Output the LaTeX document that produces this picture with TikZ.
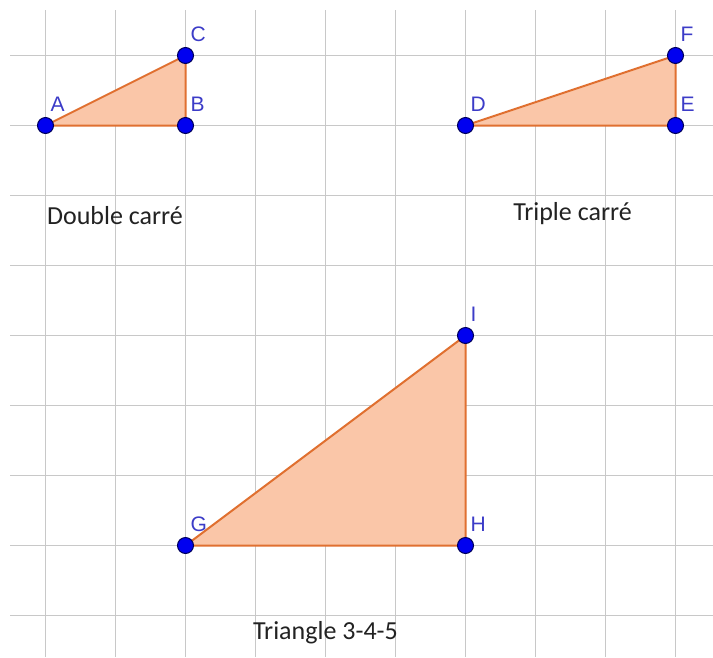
\documentclass[tikz,border=0pt]{standalone}
\usepackage{fontspec}
\setmainfont{Carlito}
\newfontfamily\lblfont{Liberation Sans}
\definecolor{gridgray}{RGB}{200,200,200}
\definecolor{edgeor}{RGB}{224,112,48}
\definecolor{fillor}{RGB}{250,198,168}
\definecolor{ptblue}{RGB}{0,0,240}
\definecolor{ptedge}{RGB}{0,0,90}
\definecolor{lblblue}{RGB}{60,60,200}
\definecolor{captext}{RGB}{34,34,34}
\begin{document}
\begin{tikzpicture}[x=1pt,y=-1pt,
  ptnode/.style={circle,fill=ptblue,draw=ptedge,line width=1pt,minimum size=16pt,inner sep=0pt},
  lbl/.style={text=lblblue,font=\lblfont\fontsize{21}{21}\selectfont,inner sep=0pt,anchor=base west},
  tri/.style={draw=edgeor,fill=fillor,line width=2pt,line join=round},
  captxt/.style={font=\fontsize{26}{26}\selectfont,text=captext,inner sep=0pt,anchor=base},
  gridline/.style={draw=gridgray,line width=1.6pt}]
\useasboundingbox (0,0) rectangle (713,657);
\fill[white] (0,0) rectangle (713,657);
% grid
\foreach \i in {0,...,9} \draw[gridline] (45.5+70*\i,10) -- (45.5+70*\i,657);
\foreach \j in {0,...,8} \draw[gridline] (10,55.5+70*\j) -- (713,55.5+70*\j);
% points
\coordinate (A) at (45.5,125.5);
\coordinate (B) at (185.5,125.5);
\coordinate (C) at (185.5,55.5);
\coordinate (D) at (465.5,125.5);
\coordinate (E) at (675.5,125.5);
\coordinate (F) at (675.5,55.5);
\coordinate (G) at (185.5,545.5);
\coordinate (H) at (465.5,545.5);
\coordinate (I) at (465.5,335.5);
% triangles
\draw[tri] (A) -- (B) -- (C) -- cycle;
\draw[tri] (D) -- (E) -- (F) -- cycle;
\draw[tri] (G) -- (H) -- (I) -- cycle;
% point markers and labels
\foreach \p in {A,B,C,D,E,F,G,H,I} {
  \node[ptnode] (pt\p) at (\p) {};
  \node[lbl] (lb\p) at ([shift={(5,-14)}]\p) {\p};
}
% captions
\node[captxt] (cap1) at (115,224) {Double carré};
\node[captxt] (cap2) at (572.5,220) {Triple carré};
\node[captxt] (cap3) at (325.5,639) {Triangle 3-4-5};
\end{tikzpicture}
\end{document}
